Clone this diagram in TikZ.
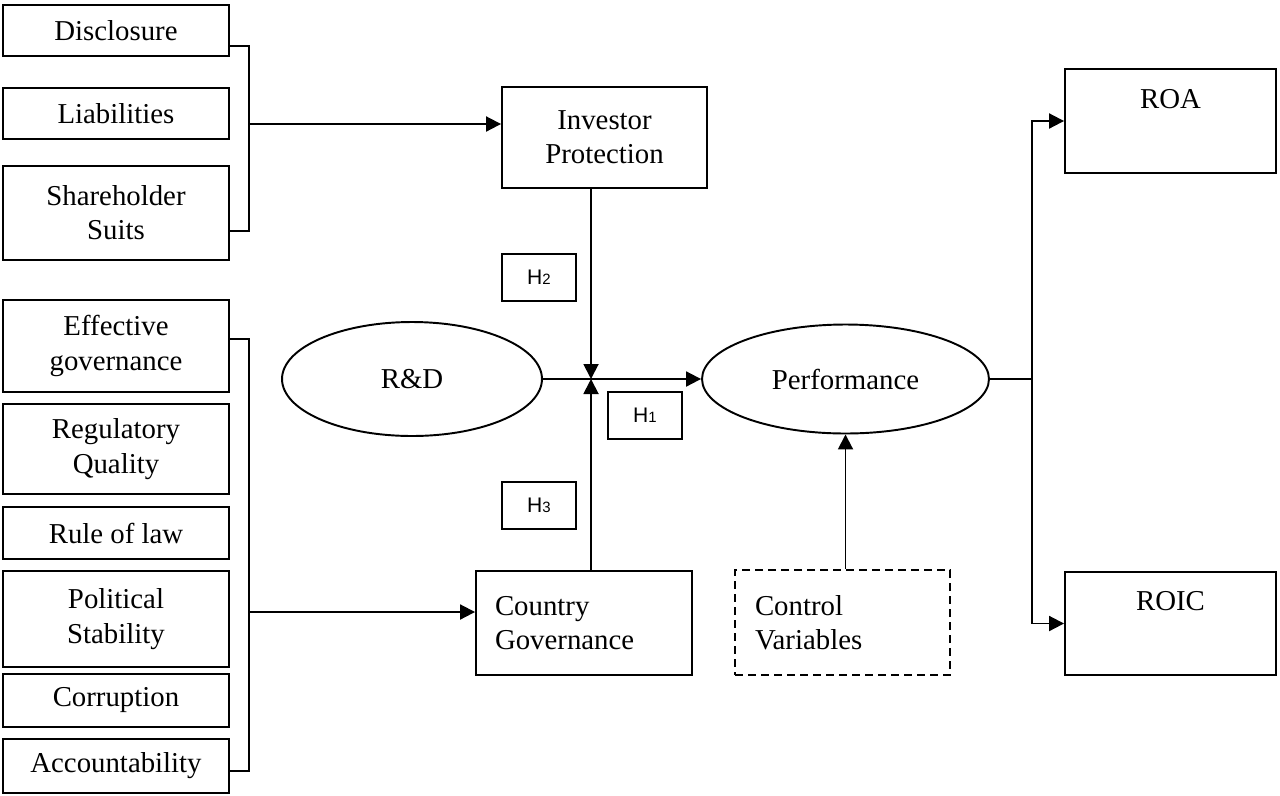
\documentclass[tikz,border=0pt]{standalone}
\usepackage{fontspec}
\setmainfont{Liberation Serif}
\newfontfamily\hfont{Liberation Sans}
\usetikzlibrary{arrows.meta,shapes.geometric}

\newcommand{\bodyfont}{\fontsize{16.4}{19.5}\selectfont}
\newcommand{\hsub}[1]{{\fontsize{8.5}{9}\selectfont #1}}

\tikzset{
  box/.style={draw,line width=1.1pt,inner sep=0pt,align=center,font=\bodyfont},
  lbox/.style={box,minimum width=4.52cm},
  hbox/.style={draw,line width=0.9pt,minimum width=1.48cm,minimum height=0.94cm,inner sep=0pt,font=\hfont\fontsize{12}{12}\selectfont},
  oval/.style={draw,ellipse,line width=1.1pt,inner sep=0pt,font=\bodyfont},
  conn/.style={line width=1.1pt},
}

\begin{document}
\begin{tikzpicture}[x=0.02cm,y=-0.02cm,>={Triangle[length=0.3cm,width=0.3cm]}]
 \useasboundingbox (0,0) rectangle (1280,795);
 \node[lbox,minimum height=1.02cm] (discl) at (116,30.5) {Disclosure};
 \node[lbox,minimum height=1.02cm] (liab) at (116,113.5) {Liabilities};
 \node[lbox,minimum height=1.88cm] (suits) at (116,213) {Shareholder\\Suits};
 \node[lbox,minimum height=1.84cm] (effgov) at (116,346) {Effective\\governance};
 \node[lbox,minimum height=1.80cm] (regq) at (116,449) {Regulatory\\Quality};
 \node[lbox,minimum height=1.04cm] (law) at (116,533) {Rule of law};
 \node[lbox,minimum height=1.92cm] (polstab) at (116,619) {Political\\Stability};
 \node[lbox,minimum height=1.06cm] (corrupt) at (116,700.5) {Corruption};
 \node[lbox,minimum height=1.08cm] (account) at (116,766) {Accountability};

 \node[box,minimum width=4.1cm,minimum height=2.02cm] (invprot) at (604.5,137.5) {Investor\\Protection};
 \node[hbox] (h2) at (539,277.5) {H\hsub{2}};
 \node[hbox] (h1) at (645,415.5) {H\hsub{1}};
 \node[hbox] (h3) at (539,505.5) {H\hsub{3}};
 \node[oval,minimum width=5.2cm,minimum height=2.28cm] (rd) at (412,379) {R\&D};
 \node[oval,minimum width=5.74cm,minimum height=2.18cm] (perf) at (845.5,379) {Performance};
 \node[box,align=left,text width=3.56cm,inner xsep=0.38cm,minimum height=2.08cm] (country) at (584,623) {Country\\Governance};
 \node[box,dashed,dash pattern=on 0.16cm off 0.1cm,align=left,text width=3.5cm,inner xsep=0.4cm,minimum height=2.1cm] (control) at (842.5,622.5) {Control\\Variables};
 \node[box,minimum width=4.22cm,minimum height=2.08cm,text height=0.4cm,text depth=0.92cm] (roa) at (1170.5,121) {ROA};
 \node[box,minimum width=4.22cm,minimum height=2.06cm,text height=0.4cm,text depth=0.92cm] (roic) at (1170.5,623.5) {ROIC};

 \coordinate (tb) at (249,46);
 \coordinate (bb) at (249,231);
 \coordinate (tm) at (249,124);
 \draw[conn] (discl.east |- tb) -| (bb) -- (suits.east |- bb);
 \draw[conn,->] (tm) -- (tm -| invprot.west);

 \coordinate (tg) at (249,339);
 \coordinate (bg) at (249,771);
 \coordinate (mg) at (249,612);
 \draw[conn] (effgov.east |- tg) -| (bg) -- (account.east |- bg);
 \draw[conn,->] (mg) -- (mg -| country.west);

 \coordinate (jn) at (591,379);
 \draw[conn,->] (invprot.south -| jn) -- (jn);
 \draw[conn,->] (country.north -| jn) -- (jn);
 \draw[conn,->] (rd) -- (perf);
 \draw[conn,->] (control.north -| perf.south) -- (perf.south);

 \coordinate (rj) at (1032,379);
 \draw[conn] (perf) -- (rj);
 \draw[conn,->] (rj) |- (roa);
 \draw[conn,->] (rj) |- (roic);
\end{tikzpicture}
\end{document}
